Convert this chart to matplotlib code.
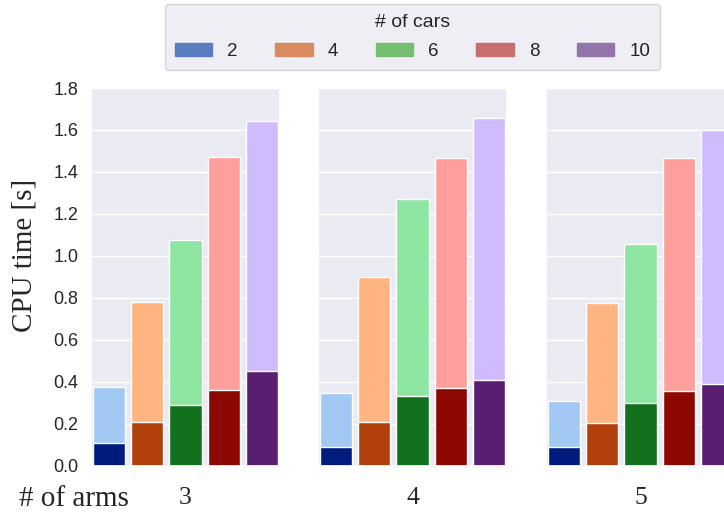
import matplotlib
matplotlib.use("Agg")
import matplotlib.pyplot as plt
import seaborn as sns
import numpy as np

sns.set_theme(style="darkgrid")

arms = [3, 4, 5]
cars = [2, 4, 6, 8, 10]

# total CPU time per (arms, cars)
total_time = {
    3: [0.378, 0.780, 1.078, 1.471, 1.644],
    4: [0.348, 0.900, 1.271, 1.465, 1.657],
    5: [0.311, 0.776, 1.059, 1.465, 1.600],
}
# lower (dark) part of each bar
part_time = {
    3: [0.108, 0.208, 0.290, 0.360, 0.454],
    4: [0.090, 0.208, 0.332, 0.370, 0.410],
    5: [0.090, 0.207, 0.298, 0.357, 0.389],
}

pastel = sns.color_palette("pastel")[:5]
dark = sns.color_palette("dark")[:5]
muted = [sns.desaturate(c, 0.75) for c in sns.color_palette("muted")[:5]]

fig = plt.figure(figsize=(7.24, 5.16), dpi=100)

lefts = [91 / 724, 318 / 724, 546 / 724]
bottom = 50 / 516
w = 189 / 724
h = 378 / 516

x = np.arange(len(cars))
for i, a in enumerate(arms):
    ax = fig.add_axes([lefts[i], bottom, w, h])
    ax.bar(x, total_time[a], width=0.84, color=pastel, edgecolor="white", linewidth=1)
    ax.bar(x, part_time[a], width=0.84, color=dark, edgecolor="white", linewidth=1)
    ax.set_xlim(-0.48, 4.48)
    ax.set_ylim(0, 1.8)
    ax.set_yticks(np.arange(0, 1.81, 0.2))
    ax.grid(axis="x", visible=False)
    ax.set_xticks([])
    ax.set_xlabel(str(a), family="Liberation Serif", fontsize=18.5, labelpad=15)
    if i == 0:
        ax.tick_params(axis="y", labelsize=13, pad=3)
        for t in ax.get_yticklabels():
            t.set_family("Liberation Sans")
    else:
        ax.set_yticklabels([])

fig.text(25 / 724, 1 - 255 / 516, "CPU time [s]", family="Liberation Serif",
         fontsize=21, rotation=90, ha="center", va="center")
fig.text(19 / 724, 1 - 499 / 516, "# of arms", family="Liberation Serif",
         fontsize=21, ha="left", va="center")

handles = [plt.Rectangle((0, 0), 1, 1, color=c) for c in muted]
leg = fig.legend(handles, [str(c) for c in cars], title="# of cars", ncol=5,
                 loc="upper center", bbox_to_anchor=(412.5 / 724, 1 - 4 / 516),
                 borderaxespad=0, borderpad=0.55, labelspacing=0.6,
                 prop={"family": "Liberation Sans", "size": 13.5},
                 title_fontproperties={"family": "Liberation Sans", "size": 14},
                 frameon=True, facecolor="#eaeaf2", edgecolor="#cccccc",
                 columnspacing=2.0, handlelength=2.0)

fig.savefig("out.png", dpi=100)
